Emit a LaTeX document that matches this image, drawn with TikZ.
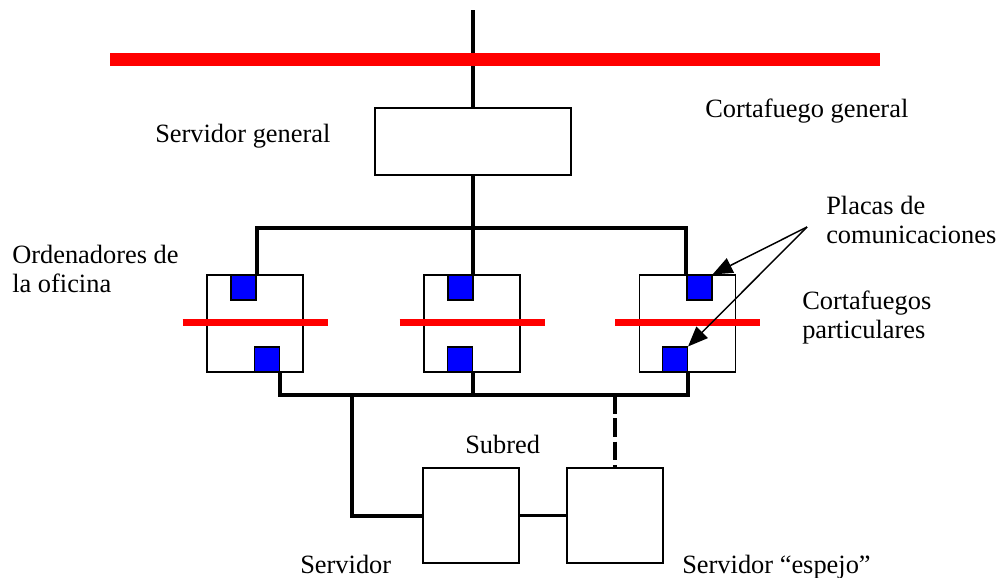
\documentclass[tikz,border=0pt]{standalone}
\usepackage{fontspec}
\setmainfont{Liberation Serif}
\usetikzlibrary{arrows.meta,calc}

\tikzset{
	caja/.style={draw, line width=1.1pt, minimum width=72pt, minimum height=72.75pt, inner sep=0pt},
	placa/.style={draw, line width=0.8pt, fill=blue, minimum size=18.75pt, inner sep=0pt},
	muro/.style={draw=red, line width=5pt},
	cable/.style={line width=3pt},
	flecha/.style={line width=1.1pt, -{Triangle[length=15pt,width=12pt]}},
	texto/.style={font=\fontsize{19.8}{21.75}\selectfont, inner sep=0pt, align=left, anchor=base west}
}

\begin{document}
\begin{tikzpicture}[x=0.75pt, y=-0.75pt]
				\useasboundingbox (0,0) rectangle (996,578);
				
				\node[caja, minimum width=147pt, minimum height=50.25pt] (gen) at (473,141.5) {};
				\node[caja] (pc1) at (255,323.5) {};
				\node[caja] (pc2) at (472,323.5) {};
				\node[caja] (pc3) at (687.5,323.5) {};
				\node[caja, minimum height=71.25pt] (serv) at (471,515.5) {};
				\node[caja, minimum height=71.25pt] (esp) at (615,515.5) {};
				
				\coordinate (arriba) at (473,10);
				\coordinate (bus1) at (473,228);
				\coordinate (bus2) at (473,395);
				\coordinate (deriv) at (352,395);
				\coordinate (punta) at (807,227);
				
				\draw[cable] (arriba) -- (gen.north);
				\draw[muro, line width=9.75pt] (110,59.5) -- (880,59.5);
				\draw[cable] (gen.south) -- (gen.south |- pc2.north);
				
				\foreach \p in {pc1,pc2,pc3}
					\draw[muro] ($(\p.center)+(-72.5,-1)$) -- ++(145,0);
				
				\node[placa] (placa1a) at (243.5,287.5) {};
				\node[placa] (placa1b) at (267,359.5) {};
				\node[placa] (placa2a) at (460.5,287.5) {};
				\node[placa] (placa2b) at (460,359.5) {};
				\node[placa] (placa3a) at (699.5,287.5) {};
				\node[placa] (placa3b) at (675,359.5) {};
				
				\draw[cable] (placa1a.north east) |- (bus1) -| (placa3a.north west);
				\draw[cable] (placa1b.south east) |- (bus2) -| (placa3b.south east);
				\draw[cable] (placa2b.south east) -- (placa2b.south east |- bus2);
				\draw[cable] (deriv) |- (serv.west);
				\draw[line width=2.5pt] (serv.east) -- (esp.west);
				\draw[cable, dash pattern=on 14pt off 3.5pt] (esp.north |- bus2) -- (esp.north);
				
				\draw[flecha] (punta) -- (placa3a.north east);
				\draw[flecha] (punta) -- (placa3b.north east);
				
				\node[texto] (tgen) at (155,142) {Servidor general};
				\node[texto] (tcorta) at (705,117) {Cortafuego general};
				\node[texto] (tofi) at (12,292) {Ordenadores de\\la oficina};
				\node[texto] (tplacas) at (826,243) {Placas de\\comunicaciones};
				\node[texto] (tpart) at (802,338) {Cortafuegos\\particulares};
				\node[texto] (tsub) at (465,453) {Subred};
				\node[texto] (tserv) at (300,573) {Servidor};
				\node[texto] (tesp) at (682,573) {Servidor “espejo”};
			\end{tikzpicture}
\end{document}
